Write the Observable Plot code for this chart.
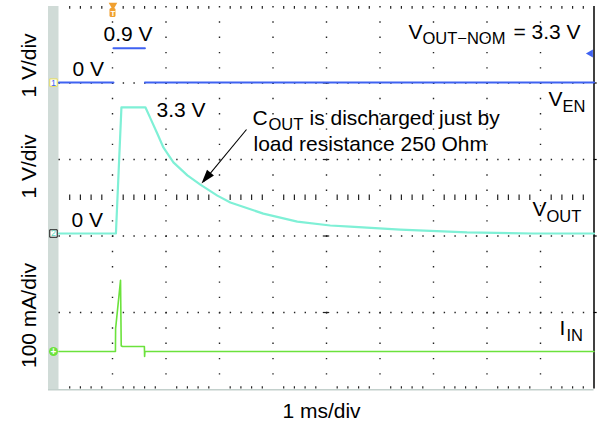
<!DOCTYPE html>
<html><head><meta charset="utf-8">
<script src="https://cdn.jsdelivr.net/npm/d3@7"></script>
<script src="https://cdn.jsdelivr.net/npm/@observablehq/plot@0.6"></script>
<style>body{margin:0;background:#fff;} svg{display:block}</style>
</head><body><div id="chart"></div>
<script>
// ---- Data (time in ms, 1 ms/div; voltages in V, current in mA) ----
const venTime  = [0, 1.018, 1.018, 1.018, 1.606, 1.606, 1.606, 10];
const venVolts = [0, 0, null, 0.9, 0.9, null, 0, 0];

const voutTime  = [0, 1.064, 1.167, 1.615, 1.709, 1.839, 1.951, 2.138, 2.400, 2.642, 2.960, 3.203, 3.819, 4.454, 5.070, 5.443, 6.377, 7.628, 8.861, 10];
const voutVolts = [0, 0, 3.3, 3.3, 3.01, 2.61, 2.25, 1.86, 1.52, 1.28, 0.99, 0.81, 0.52, 0.31, 0.21, 0.18, 0.10, 0.03, 0.0, 0.0];

const iinTime = [0, 1.055, 1.058, 1.150, 1.163, 1.186, 1.596, 1.600, 1.606, 10];
const iinMilliamps = [0, 0, 60, 186, 15, 13, 13, -13, 0, 0];

// channel ground levels (screen divisions from bottom)
const VEN_ZERO = 8.01, VOUT_ZERO = 4.065, IIN_ZERO = 0.98;
const triggerTime = 1.009;

const bigLabels = [
  {x: 0.832, y: 9.111, text: "0.9 V"},
  {x: 0.252, y: 8.196, text: "0 V"},
  {x: 1.822, y: 7.124, text: "3.3 V"},
  {x: 0.234, y: 4.248, text: "0 V"},
  {x: 6.533, y: 9.163, text: "V"},
  {x: 8.495, y: 9.163, text: "= 3.3 V"},
  {x: 9.150, y: 7.386, text: "V"},
  {x: 3.617, y: 6.889, text: "C"},
  {x: 4.682, y: 6.889, text: "is discharged just by"},
  {x: 3.636, y: 6.235, text: "load resistance 250 Ohm"},
  {x: 8.850, y: 4.510, text: "V"},
  {x: 9.355, y: 1.399, text: "I"}
];
const subLabels = [
  {x: 6.794, y: 9.020, text: "OUT\u2212NOM"},
  {x: 9.411, y: 7.229, text: "EN"},
  {x: 3.916, y: 6.771, text: "OUT"},
  {x: 9.112, y: 4.353, text: "OUT"},
  {x: 9.486, y: 1.255, text: "IN"}
];
const axisLabels = [
  {y: 8.458, text: "1 V/div"},
  {y: 5.817, text: "1 V/div"},
  {y: 1.922, text: "100 mA/div"}
];

// ---- tables ----
const ven = venTime.map((t, i) => ({t, v: venVolts[i] == null ? null : VEN_ZERO + venVolts[i]}));
const vout = voutTime.map((t, i) => ({t, v: VOUT_ZERO + voutVolts[i]}));
const iin = iinTime.map((t, i) => ({t, v: IIN_ZERO + iinMilliamps[i] / 100}));

const cols = d3.range(1, 10);
const rows = [2, 4, 6, 8];
const minorT = d3.range(1, 50).map(i => i * 0.2).filter(t => Math.abs(t - Math.round(t)) > 1e-6);

const arrowHead = {draw(ctx) { ctx.moveTo(0, 0); ctx.lineTo(-4.5, 14); ctx.lineTo(4.5, 14); ctx.closePath(); }};
const GRID = "#222";
const font = "'Liberation Sans', Arial, Helvetica, sans-serif";

const chart = Plot.plot({
  width: 600, height: 425,
  marginLeft: 58.5, marginRight: 6.5, marginTop: 6, marginBottom: 36.5,
  x: {domain: [0, 10], axis: null},
  y: {domain: [0, 10], axis: null},
  style: {fontFamily: font, background: "#fff", overflow: "visible"},
  marks: [
    // left gray strip
    Plot.rect([0], {x1: -0.196, x2: 0, y1: -0.04, y2: 10, fill: "#d0dbd7"}),
    // bottom border
    Plot.ruleY([-0.02], {x1: -0.196, x2: 10, stroke: "#c3d0cc", strokeWidth: 1.5}),
    // grid dots
    Plot.ruleX(cols, {stroke: GRID, strokeWidth: 1.4, strokeDasharray: "1.4 13.9"}),
    Plot.ruleY(rows, {stroke: GRID, strokeWidth: 1.4, strokeDasharray: "1.4 9.3"}),
    Plot.ruleX(minorT, {y1: 4.93, y2: 5.07, stroke: GRID, strokeWidth: 1.2}),
    Plot.ruleX(minorT, {y1: 9.93, y2: 10, stroke: GRID, strokeWidth: 1.2}),
    Plot.ruleX(minorT, {y1: 0, y2: 0.06, stroke: GRID, strokeWidth: 1.2}),
    Plot.ruleY(rows, {x1: 4.94, x2: 5.06, stroke: GRID, strokeWidth: 1.2}),
    Plot.ruleY(rows, {x1: 10, x2: 10.06, stroke: "#000", strokeWidth: 1.2}),
    // right border
    Plot.ruleX([10], {y1: 0, y2: 10, stroke: "#000", strokeWidth: 1.5}),
    // traces
    Plot.line(ven, {x: "t", y: "v", stroke: "#3f62f2", strokeWidth: 2}),
    Plot.line(vout, {x: "t", y: "v", stroke: "#7ff0d6", strokeWidth: 2.2}),
    Plot.line(iin, {x: "t", y: "v", stroke: "#6be23c", strokeWidth: 1.6}),
    // channel markers on left strip
    Plot.dot([VEN_ZERO], {x: -0.103, y: d => d, symbol: "square", r: 4.2, fill: "#fff", stroke: "#e6dc5a", strokeWidth: 1}),
    Plot.text(["1"], {x: -0.103, y: VEN_ZERO, text: d => d, fill: "#3f62f2", fontSize: 9}),
    Plot.dot([VOUT_ZERO], {x: -0.103, y: d => d, symbol: "square", r: 4.2, fill: "#fff", stroke: "#111", strokeWidth: 1}),
    Plot.text(["2"], {x: -0.103, y: VOUT_ZERO, text: d => d, fill: "#5fd8c0", fontSize: 9}),
    Plot.dot([IIN_ZERO], {x: -0.103, y: d => d, r: 4.5, fill: "#6be23c"}),
    Plot.text(["+"], {x: -0.103, y: IIN_ZERO, text: d => d, fill: "#fff", fontSize: 10, fontWeight: "bold"}),
    // trigger marker & level marker
    Plot.rect([triggerTime], {x1: 0.953, x2: 1.065, y1: 9.712, y2: 9.948, fill: "#f0a030", rx: 1.5}),
    Plot.dot([triggerTime], {x: d => d, y: 10.03, symbol: "triangle", r: 3.2, rotate: 180, fill: "#f0a030"}),
    Plot.text(["T"], {x: triggerTime, y: 9.83, text: d => d, fill: "#fff", fontSize: 8, fontWeight: "bold"}),
    Plot.dot([0.76], {x: 9.935, y: d => VEN_ZERO + d, symbol: "triangle", r: 3, rotate: -90, fill: "#3f62f2"}),
    // annotation arrow
    Plot.link([0], {x1: 3.505, y1: 6.784, x2: 2.70, y2: 5.42, stroke: "#000", strokeWidth: 1.1}),
    Plot.dot([0], {x: 2.664, y: 5.373, symbol: arrowHead, rotate: 219.8, fill: "#000", stroke: "none"}),
    // labels
    Plot.text(bigLabels, {x: "x", y: "y", text: "text", textAnchor: "start", lineAnchor: "bottom", fontSize: 21, fill: "#000"}),
    Plot.text(subLabels, {x: "x", y: "y", text: "text", textAnchor: "start", lineAnchor: "bottom", fontSize: 16.5, fill: "#000"}),
    Plot.text(axisLabels, {x: -0.421, y: "y", text: "text", rotate: -90, textAnchor: "middle", lineAnchor: "bottom", fontSize: 21, fill: "#000"}),
    Plot.text(["1 ms/div"], {x: 4.907, y: -0.771, text: d => d, textAnchor: "middle", lineAnchor: "bottom", fontSize: 21, fill: "#000"})
  ]
});
document.getElementById("chart").appendChild(chart);
</script>
</body></html>
